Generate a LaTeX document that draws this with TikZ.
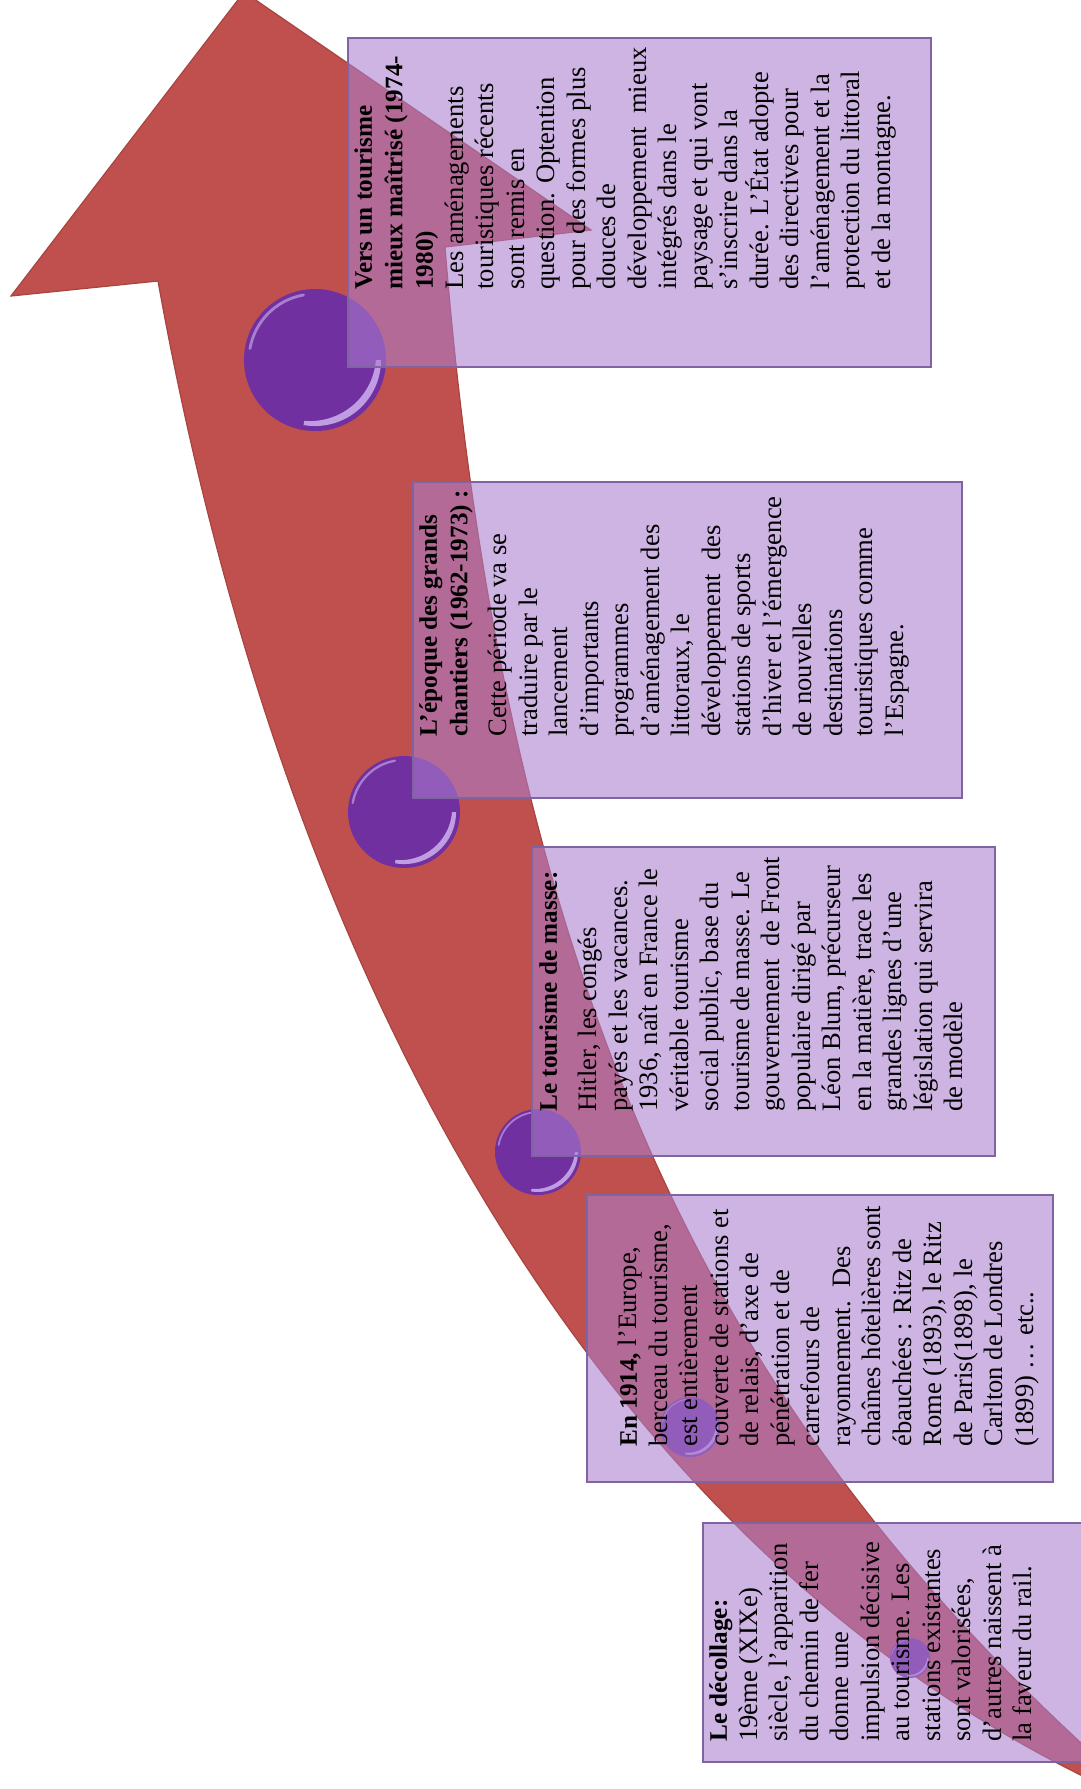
\documentclass[tikz,border=0pt]{standalone}
\usepackage{fontspec}
\setmainfont{Liberation Serif}
\definecolor{arrowred}{HTML}{C0504D}
\definecolor{arrowedge}{HTML}{A84440}
\definecolor{boxfill}{RGB}{170,125,205}
\definecolor{boxline}{HTML}{8064A2}
\definecolor{dotpurple}{HTML}{7030A0}
\definecolor{dotshine}{HTML}{E2CCFF}
\tikzset{
  panel/.style={fill=boxfill, fill opacity=0.58, draw=boxline, line width=1.1pt},
  paneltext/.style={rotate=90, anchor=north west, inner sep=0pt, align=left,
    font=\fontsize{13.3pt}{15.25pt}\selectfont, text=black},
  glint/.style={draw=dotshine, draw opacity=0.5, line cap=round},
}
\newcommand{\hd}[1]{{\fontsize{12.6pt}{15.25pt}\selectfont\bfseries #1}}
\newcommand{\gemdot}[3]{%
  \fill[dotpurple] (#1,#2) circle[radius=#3];
  \begin{scope}
    \clip (#1,#2) -- ++(0:{1.1*#3}) arc[start angle=0, end angle=100, radius={1.1*#3}] -- cycle;
    \fill[dotshine, fill opacity=0.7, even odd rule]
      (#1,#2) circle[radius={0.93*#3}]
      ({#1-0.07*#3},{#2-0.07*#3}) circle[radius={0.93*#3}];
  \end{scope}
  \draw[glint, line width={#3*0.02pt}] (#1,#2) ++(190:{0.93*#3}) arc[start angle=190, end angle=260, radius={0.93*#3}];
}
\begin{document}
\begin{tikzpicture}[x=0.5pt, y=-0.5pt]
\useasboundingbox (0,0) rectangle (1081,1789);
\begin{scope}
\clip (0,0) rectangle (1081,1789);
% curved arrow
\fill[arrowred, draw=arrowedge, line width=0.6pt]
  (244,-8) -- (11,296) -- (158,281)
  .. controls (302,1081) and (670,1615) .. (1170,1815)
  -- (1081,1743)
  .. controls (752,1437) and (509,1047) .. (445,247)
  -- (591,230) -- cycle;
% dots on the arrow
\gemdot{315}{360}{71}
\gemdot{404}{812}{56}
\gemdot{538}{1152}{43}
\gemdot{690}{1427}{30}
\gemdot{910}{1658}{20}
% panels
\draw[panel] (348,38) rectangle (931,367);
\draw[panel] (413,482) rectangle (962,798);
\draw[panel] (532,847) rectangle (995,1156);
\draw[panel] (587,1195) rectangle (1053,1482);
\draw[panel] (703,1523) rectangle (1100,1762);
\end{scope}
% texts
\node[paneltext] (t1) at (350,290) {\strut\hd{Vers un tourisme}\\
\hd{mieux maîtrisé (1974-}\\
\hd{1980)}\\
Les aménagements\\
touristiques récents\\
sont remis en\\
question. Optention\\
pour des formes plus\\
douces de\\
développement\ \ mieux\\
intégrés dans le\\
paysage et qui vont\\
s’inscrire dans la\\
durée. L’État adopte\\
des directives pour\\
l’aménagement et la\\
protection du littoral\\
et de la montagne.};
\node[paneltext] (t2) at (415,737) {\strut\hd{L’époque des grands}\\
\hd{chantiers (1962-1973) :}\\[4.5pt]
Cette période va se\\
traduire par le\\
lancement\\
d’importants\\
programmes\\
d’aménagement des\\
littoraux, le\\
développement\ \ des\\
stations de sports\\
d’hiver et l’émergence\\
de nouvelles\\
destinations\\
touristiques comme\\
l’Espagne.};
\node[paneltext] (t3) at (535,1112) {\strut\hd{Le tourisme de masse:}\\[4.75pt]
Hitler, les congés\\
payés et les vacances.\\
1936, naît en France le\\
véritable tourisme\\
social public, base du\\
tourisme de masse. Le\\
gouvernement\ \ de Front\\
populaire dirigé par\\
Léon Blum, précurseur\\
en la matière, trace les\\
grandes lignes d’une\\
législation qui servira\\
de modèle};
\node[paneltext] (t4) at (615,1447) {\strut\hd{En 1914,} l’Europe,\\
berceau du tourisme,\\
est entièrement\\
couverte de stations et\\
de relais, d’axe de\\
pénétration et de\\
carrefours de\\
rayonnement.\ \ Des\\
chaînes hôtelières sont\\
ébauchées : Ritz de\\
Rome (1893), le Ritz\\
de Paris(1898), le\\
Carlton de Londres\\
(1899) … etc..};
\node[paneltext] (t5) at (705,1742) {\strut\hd{Le décollage:}\\
19ème (XIXe)\\
siècle, l’apparition\\
du chemin de fer\\
donne une\\
impulsion décisive\\
au tourisme. Les\\
stations existantes\\
sont valorisées,\\
d’autres naissent à\\
la faveur du rail.};
\end{tikzpicture}
\end{document}
